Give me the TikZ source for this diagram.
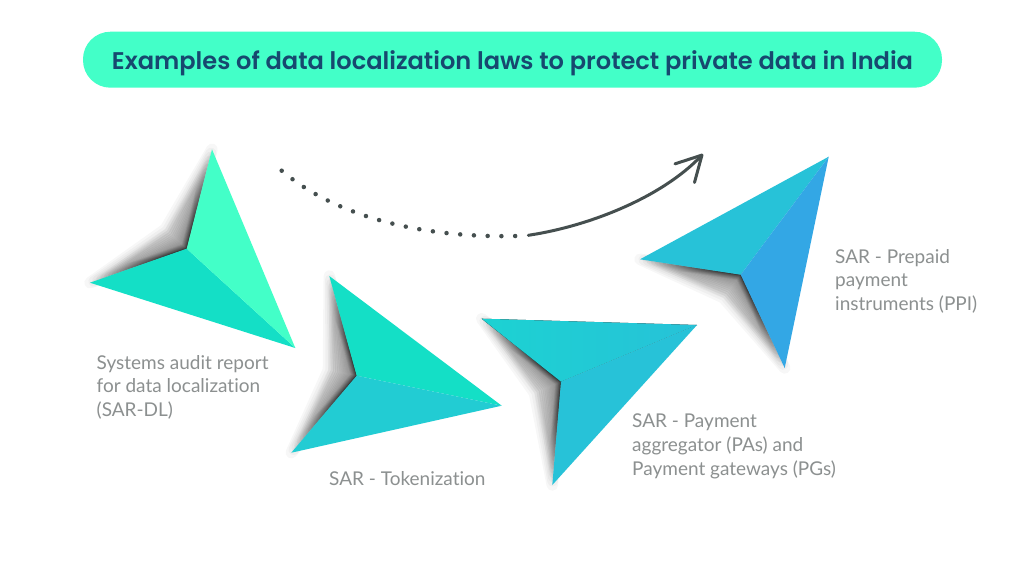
\documentclass[tikz,border=0pt]{standalone}
\usepackage{fontspec}
\setmainfont{Lato}[Ligatures=NoCommon]
\newfontfamily\titlefont{Poppins}[UprightFont=* SemiBold]
\usetikzlibrary{arrows.meta,calc}
\definecolor{pillgreen}{HTML}{43FFC8}
\definecolor{titleblue}{HTML}{17486F}
\definecolor{labgray}{HTML}{8C9090}
\definecolor{curvegray}{HTML}{454F4F}
\definecolor{mint}{HTML}{14DFC6}
\definecolor{teal}{HTML}{22CCD3}
\definecolor{aqua}{HTML}{1CD2D2}
\definecolor{sky}{HTML}{27C2D8}
\definecolor{azure}{HTML}{33A7E5}
% dart shaped soft shadow: wing, notch, wing, direction away from the tip
\newcommand{\planeshade}[4]{%
  \foreach \i in {1,...,24} {
    \pgfmathsetmacro{\k}{0.05*\i*\i}
    \pgfmathsetmacro{\f}{0.12+0.88*\i/24}
    \filldraw[black, opacity=0.03, line width=0.4*\k pt, line join=round]
      ($#2!\f!#1$) -- #2 -- ($#2!\f!#3$) -- ($#2+\k*#4$) -- cycle;
  }
}
\tikzset{
  lab/.style={anchor=north west, inner sep=0pt, align=left, text=labgray,
    font=\fontsize{19}{23.7}\selectfont},
  curve/.style={draw=curvegray, line width=3pt, line cap=round}
}
\begin{document}
\begin{tikzpicture}[x=1pt, y=-1pt]
  \useasboundingbox (0,0) rectangle (1024,573);
  \fill[white] (0,0) rectangle (1024,573);

  % title pill
  \node[fill=pillgreen, rounded corners=27.5pt, minimum width=859pt, minimum height=56pt,
    inner sep=0pt, text height=24pt, text depth=5.4pt, text=titleblue,
    font=\titlefont\fontsize{24.1}{28}\selectfont]
    (title) at (512.5,59.7) {Examples of data localization laws to protect private data in India};

  % first plane
  \planeshade{(212,149.3)}{(186.7,248.7)}{(90,282.7)}{(-0.74,-0.68)}
  \fill[mint] (90,282.7) -- (186.7,248.7) -- (295.3,348) -- cycle;
  \fill[pillgreen] (212,149.3) -- (186.7,248.7) -- (295.3,348) -- cycle;
  \node[lab] (audit) at (96.5,355) {Systems audit report\\for data localization\\(SAR-DL)};

  % second plane
  \planeshade{(329.3,276)}{(356.7,375.7)}{(291.3,452.7)}{(-0.98,-0.2)}
  \fill[mint] (329.3,276) -- (356.7,375.7) -- (501.7,405.7) -- cycle;
  \fill[teal] (291.3,452.7) -- (356.7,375.7) -- (501.7,405.7) -- cycle;
  \node[lab] (token) at (329,471) {SAR - Tokenization};

  % third plane
  \planeshade{(481.7,318.7)}{(561,381.7)}{(552.3,485)}{(-0.92,0.39)}
  \fill[left color=aqua, right color=sky] (481.7,318.7) -- (697,325) -- (561,381.7) -- cycle;
  \fill[sky] (552.3,485) -- (697,325) -- (561,381.7) -- cycle;
  \node[lab] (gateway) at (632,414) {SAR - Payment\\aggregator (PAs) and\\Payment gateways (PGs)};

  % fourth plane
  \planeshade{(640,259.3)}{(740.7,274.7)}{(784.7,368)}{(-0.6,0.8)}
  \fill[sky] (640,259.3) -- (828.7,156.7) -- (740.7,274.7) -- cycle;
  \fill[azure] (784.7,368) -- (828.7,156.7) -- (740.7,274.7) -- cycle;
  \node[lab] (prepaid) at (835,249) {SAR - Prepaid\\payment\\instruments (PPI)};

  % dots and arrow
  \coordinate (dotstart) at (281.7,170.7);
  \coordinate (dotend) at (515.7,236);
  \coordinate (arrowstart) at (528.3,235.3);
  \coordinate (arrowend) at (703,154);
  \draw[draw=curvegray, line width=4.5pt, line cap=round, dash pattern=on 0pt off 13.75pt]
    (dotstart) .. controls (340,220) and (430,238) .. (dotend);
  \draw[curve, -{Straight Barb[length=25pt, width=27pt, round]}]
    (arrowstart) .. controls (590,226) and (662,197) .. (arrowend);
\end{tikzpicture}
\end{document}
